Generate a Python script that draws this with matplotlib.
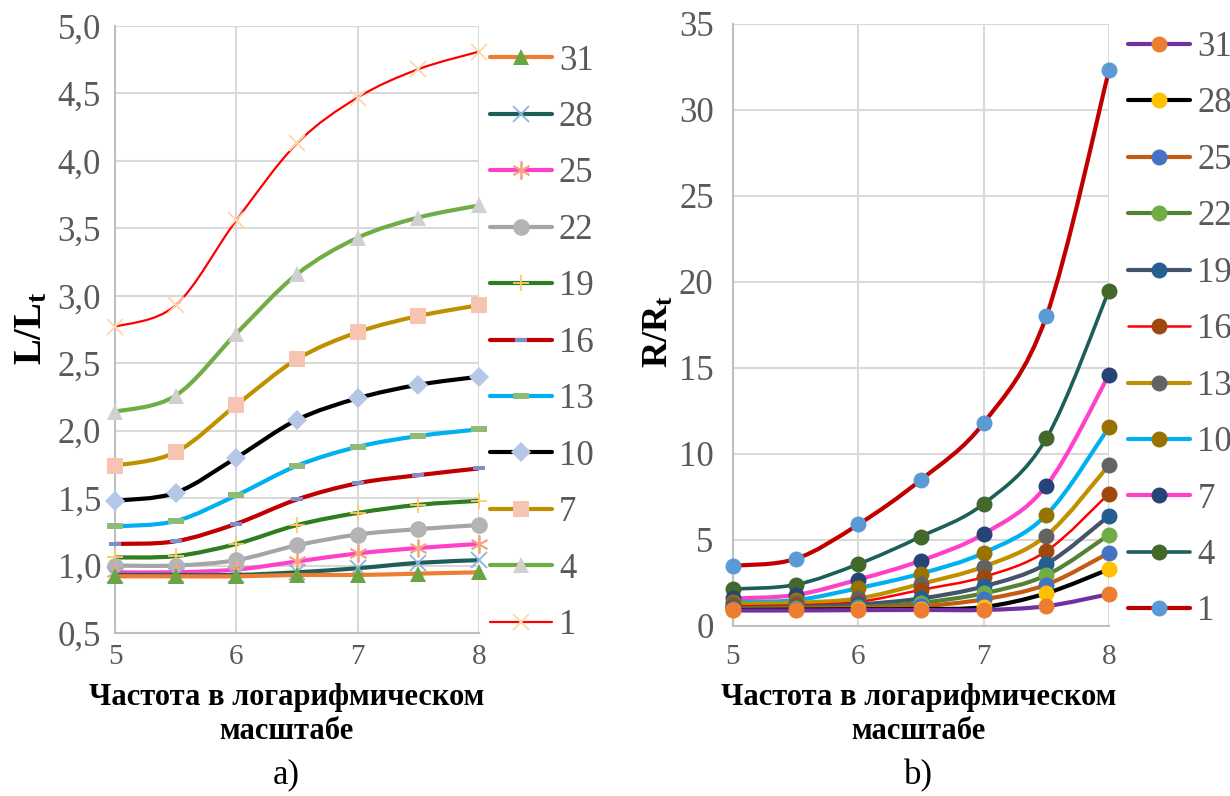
import numpy as np
import matplotlib
matplotlib.use("Agg")
import matplotlib.pyplot as plt
from matplotlib.path import Path
from matplotlib.patches import PathPatch
from matplotlib.lines import Line2D
from matplotlib.ticker import FuncFormatter

# log-frequency points
freq = [5, 5.5, 6, 6.5, 7, 7.5, 8]
series_names = ["1", "4", "7", "10", "13", "16", "19", "22", "25", "28", "31"]

# a) L/Lt
L1 = [2.77, 2.93, 3.56, 4.13, 4.47, 4.68, 4.81]
L4 = [2.14, 2.26, 2.72, 3.16, 3.43, 3.58, 3.67]
L7 = [1.74, 1.84, 2.19, 2.53, 2.73, 2.85, 2.93]
L10 = [1.48, 1.54, 1.80, 2.08, 2.24, 2.34, 2.40]
L13 = [1.29, 1.33, 1.52, 1.74, 1.88, 1.96, 2.01]
L16 = [1.16, 1.18, 1.31, 1.49, 1.61, 1.67, 1.72]
L19 = [1.06, 1.07, 1.16, 1.30, 1.39, 1.45, 1.48]
L22 = [1.00, 1.00, 1.04, 1.15, 1.23, 1.27, 1.30]
L25 = [0.95, 0.95, 0.97, 1.03, 1.09, 1.13, 1.16]
L28 = [0.93, 0.93, 0.93, 0.95, 0.98, 1.02, 1.04]
L31 = [0.92, 0.92, 0.92, 0.93, 0.93, 0.94, 0.95]

# b) R/Rt
R1 = [3.5, 3.9, 5.9, 8.5, 11.8, 18.0, 32.3]
R4 = [2.15, 2.4, 3.6, 5.2, 7.1, 10.9, 19.5]
R7 = [1.6, 1.8, 2.7, 3.8, 5.35, 8.15, 14.6]
R10 = [1.4, 1.5, 2.2, 3.05, 4.25, 6.45, 11.55]
R13 = [1.3, 1.35, 1.6, 2.45, 3.45, 5.25, 9.35]
R16 = [1.15, 1.2, 1.4, 2.1, 2.85, 4.35, 7.7]
R19 = [1.05, 1.1, 1.25, 1.6, 2.3, 3.6, 6.4]
R22 = [1.0, 1.05, 1.1, 1.35, 1.9, 2.95, 5.3]
R25 = [0.97, 1.0, 1.05, 1.15, 1.55, 2.4, 4.25]
R28 = [0.93, 0.95, 0.97, 0.98, 1.1, 1.9, 3.3]
R31 = [0.9, 0.9, 0.92, 0.93, 0.93, 1.15, 1.85]

left_data = [L1, L4, L7, L10, L13, L16, L19, L22, L25, L28, L31]
right_data = [R1, R4, R7, R10, R13, R16, R19, R22, R25, R28, R31]

dash = [(-1, -0.32), (1, -0.32), (1, 0.32), (-1, 0.32), (-1, -0.32)]

# line colour, line width, marker, marker colour, marker size
left_style = [
    ("#FF0000", 1.6, "x", "#FFD7A8", 11),
    ("#70AD47", 3.0, "^", "#D0D0D0", 12),
    ("#BF9000", 3.0, "s", "#F6C4B0", 12),
    ("#000000", 3.0, "D", "#B4C7E7", 10),
    ("#00B0F0", 3.0, dash, "#8DBB78", 12),
    ("#C00000", 3.0, dash, "#7F8FCC", 9),
    ("#2E7D1E", 3.0, "+", "#FFC966", 12),
    ("#A5A5A5", 3.0, "o", "#B4B4B4", 12),
    ("#FF40C8", 3.0, (6, 2, 0), "#F4A582", 13),
    ("#1E5E58", 3.0, "x", "#8DB4E2", 11),
    ("#ED7D31", 3.0, "^", "#6AA443", 12),
]

right_style = [
    ("#C00000", 3.0, "#5B9BD5"),
    ("#1B5E5A", 2.6, "#43682B"),
    ("#FF40C8", 3.0, "#264478"),
    ("#00B0F0", 3.0, "#997300"),
    ("#BF9000", 3.0, "#636363"),
    ("#FF0000", 1.8, "#9E480E"),
    ("#44546A", 3.0, "#255E91"),
    ("#548235", 3.0, "#70AD47"),
    ("#C55A11", 3.0, "#4472C4"),
    ("#000000", 3.0, "#FFC000"),
    ("#7030A0", 3.0, "#ED7D31"),
]

plt.rcParams['font.family'] = ['Liberation Serif', 'DejaVu Serif']
plt.rcParams['mathtext.fontset'] = 'custom'
plt.rcParams['mathtext.rm'] = 'Liberation Serif'
plt.rcParams['mathtext.bf'] = 'Liberation Serif:bold'

TICK_COLOR = "#595959"
GRID_COLOR = "#D9D9D9"
TICK_SIZE = 25
XTICK_SIZE = 21
LEG_SIZE = 25


def smooth_path(x, y):
    # Excel-like smoothed line: cubic Bezier through the points
    pts = np.column_stack([x, y]).astype(float)
    n = len(pts)
    verts = [pts[0]]
    codes = [Path.MOVETO]
    for i in range(n - 1):
        p0 = pts[i - 1] if i > 0 else pts[i]
        p1 = pts[i]
        p2 = pts[i + 1]
        p3 = pts[i + 2] if i + 2 < n else pts[i + 1]
        verts += [p1 + (p2 - p0) / 6, p2 - (p3 - p1) / 6, p2]
        codes += [Path.CURVE4] * 3
    return Path(verts, codes)


def style_axes(ax, ylim, yticks, fmt, xpad, ypad):
    ax.set_xlim(5, 8)
    ax.set_ylim(*ylim)
    ax.set_xticks([5, 6, 7, 8])
    ax.set_yticks(yticks)
    ax.yaxis.set_major_formatter(FuncFormatter(fmt))
    ax.grid(True, color=GRID_COLOR, lw=1.5)
    ax.set_axisbelow(True)
    for s in ["top", "right"]:
        ax.spines[s].set_visible(False)
    for s in ["left", "bottom"]:
        ax.spines[s].set_color("#BFBFBF")
        ax.spines[s].set_linewidth(1.5)
    ax.tick_params(axis="both", length=0, colors=TICK_COLOR)
    ax.tick_params(axis="x", pad=xpad, labelsize=XTICK_SIZE)
    ax.tick_params(axis="y", pad=ypad, labelsize=TICK_SIZE)


fig = plt.figure(figsize=(12.3, 7.96), dpi=100)
ax1 = fig.add_axes([0.0935, 0.2048, 0.2959, 0.7625])
ax2 = fig.add_axes([0.5959, 0.2136, 0.3057, 0.7563])

style_axes(ax1, (0.5, 5.0), np.arange(0.5, 5.01, 0.5),
           lambda v, p: f"{v:.1f}".replace(".", ","), 8, 10)
style_axes(ax2, (0, 35), range(0, 36, 5),
           lambda v, p: f"{v:.0f}", 13, 14)

# left chart
handles1 = []
for k, (vals, (lc, lw, m, mc, ms)) in enumerate(zip(left_data, left_style)):
    z = 3 + k
    ax1.add_patch(PathPatch(smooth_path(freq, vals), fill=False, ec=lc, lw=lw,
                            capstyle="round", zorder=z))
    filled = m not in ("x", "+") and not isinstance(m, tuple)
    mew = 1.3 if not filled else 0
    ax1.plot(freq, vals, ls="none", marker=m, ms=ms, mfc=mc, mec=mc, mew=mew,
             zorder=z + 0.5, clip_on=False)
    handles1.append(Line2D([], [], color=lc, lw=lw, marker=m, ms=ms, mfc=mc,
                           mec=mc, mew=mew, solid_capstyle="round"))

# right chart
handles2 = []
for k, (vals, (lc, lw, mc)) in enumerate(zip(right_data, right_style)):
    z = 3 + k
    ax2.add_patch(PathPatch(smooth_path(freq, vals), fill=False, ec=lc, lw=lw,
                            capstyle="round", zorder=z))
    ax2.plot(freq, vals, ls="none", marker="o", ms=11.5, mfc=mc, mec=mc, mew=0,
             zorder=z + 0.5, clip_on=False)
    handles2.append(Line2D([], [], color=lc, lw=lw, marker="o", ms=11.5, mfc=mc,
                           mec=mc, mew=0, solid_capstyle="round"))

leg_kw = dict(frameon=False, fontsize=LEG_SIZE, labelcolor=TICK_COLOR,
              handlelength=1.8, handletextpad=0.2, labelspacing=0.675,
              borderpad=0, borderaxespad=0, loc="upper left",
              bbox_transform=fig.transFigure)
ax1.legend(handles1[::-1], series_names[::-1], bbox_to_anchor=(0.398, 0.944), **leg_kw)
ax2.legend(handles2[::-1], series_names[::-1], bbox_to_anchor=(0.917, 0.961), **leg_kw)

# axis titles
fig.text(0.026, 0.588, r"$\mathbf{L/L_t}$", rotation=90, ha="center", va="center",
         fontsize=28)
fig.text(0.536, 0.583, r"$\mathbf{R/R_t}$", rotation=90, ha="center", va="center",
         fontsize=26)

for cx, tag in [(0.233, "a)"), (0.747, "b)")]:
    fig.text(cx, 0.1235, "Частота в логарифмическом", ha="center", va="center",
             fontsize=22, fontweight="bold")
    fig.text(cx, 0.0815, "масштабе", ha="center", va="center",
             fontsize=22, fontweight="bold")
    fig.text(cx, 0.026, tag, ha="center", va="center", fontsize=25)

fig.savefig("out.png", dpi=100)
